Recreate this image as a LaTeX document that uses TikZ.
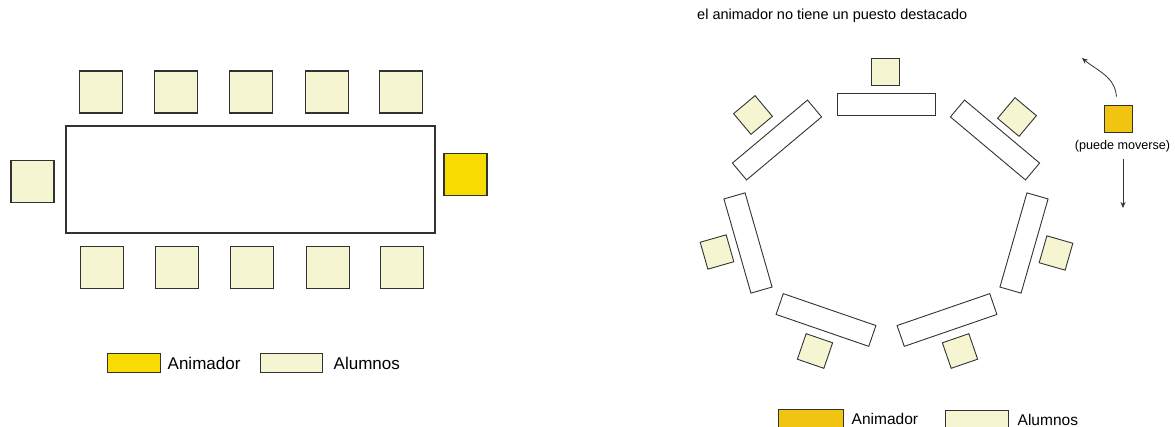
\documentclass[tikz,border=0pt]{standalone}
\usepackage{fontspec}
\setmainfont{Liberation Sans}
\usepackage{tikz}
\usepackage{xcolor}
\usetikzlibrary{arrows.meta, positioning}
\definecolor{cSilla}{RGB}{246,245,210}
\definecolor{cAnim}{RGB}{246,220,0}
\definecolor{cOro}{RGB}{242,196,18}
\definecolor{cLinea}{RGB}{50,50,50}
\tikzset{
	% mesa rectangular
	mesa/.style    ={rectangle, draw=cLinea, line width=1.3pt, fill=white, inner sep=0pt},
	silla/.style   ={rectangle, draw=cLinea, line width=1.3pt, fill=cSilla, minimum width=43pt, minimum height=42pt, inner sep=0pt},
	% mesas en herradura
	mesita/.style  ={rectangle, draw=cLinea, line width=0.9pt, fill=white, minimum width=98pt, minimum height=22pt, inner sep=0pt},
	sillita/.style ={rectangle, draw=cLinea, line width=0.9pt, fill=cSilla, minimum width=28pt, minimum height=27pt, inner sep=0pt},
	muestra/.style ={rectangle, draw=cLinea, line width=1pt, minimum height=19pt, inner sep=0pt},
	rotulo/.style  ={anchor=west, inner sep=0pt},
	mueve/.style   ={-{Stealth[length=6pt,width=5pt]}, line width=0.8pt, cLinea},
}
\begin{document}
\begin{tikzpicture}[x=1pt, y=1pt]
	\useasboundingbox (0,0) rectangle (1175,-427);
	% disposicion rectangular
	\node[mesa, minimum width=369pt, minimum height=107pt] (mesa) at (250.5,-179.5) {};
	\foreach \i/\x in {1/101, 2/176, 3/251, 4/327, 5/401} {
		\node[silla] (arr-\i) at (\x,-92) {};
		\node[silla] (abj-\i) at (\x+1,-267.5) {};
	}
	\node[silla] (izq) at (32.5,-181.5) {};
	\node[silla, fill=cAnim] (anim) at (465.5,-174.5) {};
	\node[muestra, fill=cAnim, minimum width=53pt] (leyA) at (133.5,-363.5) {};
	\node[rotulo, font=\fontsize{17}{20}\selectfont, right=7pt of leyA] (txtA) {Animador};
	\node[muestra, fill=cSilla, minimum width=62pt] (leyB) at (291,-363.5) {};
	\node[rotulo, font=\fontsize{17}{20}\selectfont, right=11pt of leyB] (txtB) {Alumnos};

	% disposicion en herradura
	\node[rotulo, font=\fontsize{14.5}{17}\selectfont] (titulo) at (697,-16) {el animador no tiene un puesto destacado};
	\foreach \n/\tx/\ty/\cx/\cy/\a in {sup/886/104/885.5/71.5/0, si/777/140/753/115/40, sd/995/140/1017/117/-40, ii/748/243/717/252/-74, id/1024/243/1056/253/74, bi/826/320/815/351/-19, bd/947/320/960/351/19} {
		\node[mesita, rotate=\a] (m-\n) at (\tx,-\ty) {};
		\node[sillita, rotate=\a] (s-\n) at (\cx,-\cy) {};
	}
	\node[sillita, fill=cOro] (mov) at (1118.5,-118.5) {};
	\node[font=\fontsize{12.6}{15}\selectfont, inner sep=0pt, below=8pt of mov, xshift=4pt] (puede) {(puede moverse)};
	\coordinate (arriba) at (1082,-58);
	\coordinate (abajo) at (1123,-208);
	\draw[mueve] ([xshift=-2pt, yshift=8pt]mov.north) to[out=95, in=-40] (arriba);
	\draw[mueve] ([yshift=-6pt]puede.south -| abajo) -- (abajo);
	\node[muestra, fill=cOro, minimum width=65pt] (leyC) at (810.5,-418.5) {};
	\node[rotulo, font=\fontsize{15.5}{18}\selectfont, right=8pt of leyC] (txtC) {Animador};
	\node[muestra, fill=cSilla, minimum width=63pt] (leyD) at (976.5,-419.5) {};
	\node[rotulo, font=\fontsize{15.5}{18}\selectfont, right=9pt of leyD] (txtD) {Alumnos};
\end{tikzpicture}
\end{document}
